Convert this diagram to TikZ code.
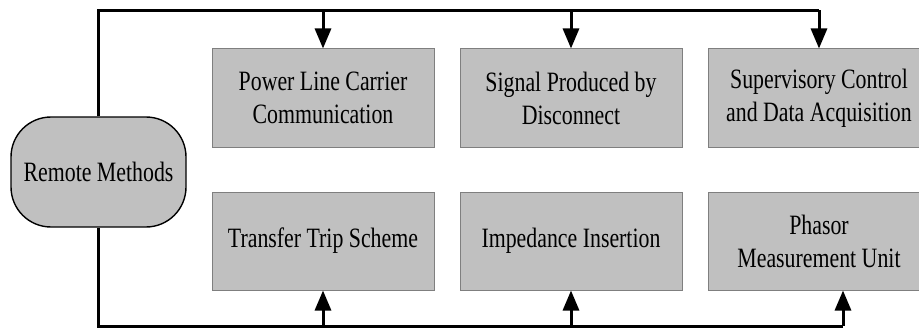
\documentclass[tikz,border=0pt]{standalone}
\usepackage{fontspec}
\setmainfont[FakeStretch=0.78]{Liberation Serif}
\usetikzlibrary{arrows.meta}
\definecolor{boxgray}{HTML}{C0C0C0}
\definecolor{edgegray}{HTML}{7F7F7F}
\tikzset{
  methodbox/.style={draw=edgegray, line width=1pt, fill=boxgray,
    minimum width=222pt, minimum height=98pt, inner sep=0pt, align=center,
    font=\fontsize{28}{33}\selectfont},
  rootbox/.style={draw=black, line width=1.4pt, fill=boxgray, rounded corners=40pt,
    minimum width=175pt, minimum height=110pt, inner sep=0pt, align=center,
    font=\fontsize{28}{33}\selectfont},
  bus/.style={draw=black, line width=3pt},
  feed/.style={bus, -{Triangle[width=16pt,length=20pt]}}
}
\begin{document}
\begin{tikzpicture}[x=1pt, y=-1pt]
  \clip (0,0) rectangle (919,329);
  \useasboundingbox (0,0) rectangle (919,329);

  % root of the tree
  \node[rootbox] (rm) at (98.5,172) {Remote Methods};

  % upper row of methods
  \node[methodbox] (b1) at (323,98) {Power Line Carrier\\Communication};
  \node[methodbox] (b2) at (571,98) {Signal Produced by\\Disconnect};
  \node[methodbox] (b3) at (819,98) {Supervisory Control\\and Data Acquisition};

  % lower row of methods
  \node[methodbox] (b4) at (323,241) {Transfer Trip Scheme};
  \node[methodbox] (b5) at (571,241) {Impedance Insertion};
  \node[methodbox] (b6) at (819,241) {Phasor\\Measurement Unit};

  % bus ends
  \coordinate (tr) at (819,10.5);
  \coordinate (br) at (843,326);

  % upper bus and its branches
  \draw[bus] (rm.north) |- (tr);
  \draw[feed] (b1.north |- tr) -- (b1.north);
  \draw[feed] (b2.north |- tr) -- (b2.north);
  \draw[feed] (tr) -- (b3.north);

  % lower bus and its branches
  \draw[bus] (rm.south) |- (br);
  \draw[feed] (b4.south |- br) -- (b4.south);
  \draw[feed] (b5.south |- br) -- (b5.south);
  \draw[feed] (br) -- (br |- b6.south);
\end{tikzpicture}
\end{document}
